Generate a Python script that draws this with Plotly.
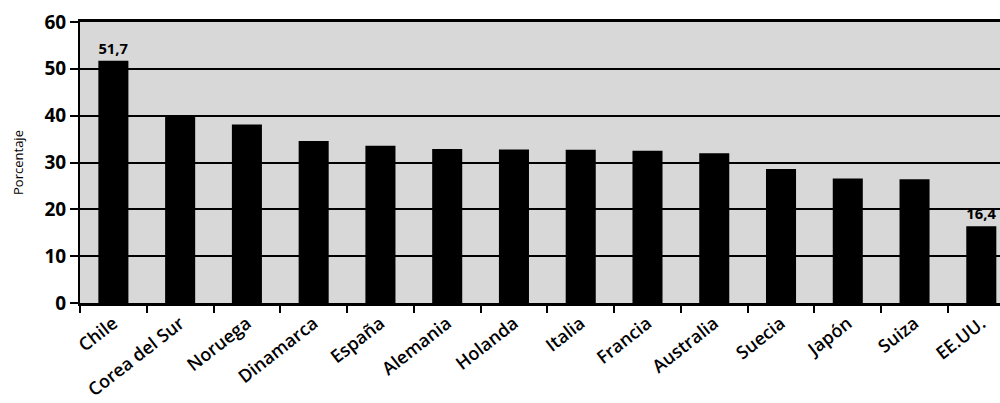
import plotly.graph_objects as go

countries = ["Chile", "Corea del Sur", "Noruega", "Dinamarca", "España", "Alemania",
             "Holanda", "Italia", "Francia", "Australia", "Suecia", "Japón", "Suiza", "EE.UU."]
values = [51.7, 40.0, 38.1, 34.6, 33.6, 32.9, 32.8, 32.7, 32.5, 32.0, 28.6, 26.6, 26.4, 16.4]
value_labels = ["51,7", "", "", "", "", "", "", "", "", "", "", "", "", "16,4"]
y_ticks = [0, 10, 20, 30, 40, 50, 60]

FONT = "Open Sans"

fig = go.Figure(go.Bar(
    x=countries, y=values,
    text=value_labels, textposition="outside",
    textfont=dict(family=FONT, size=15, color="black", weight=700),
    marker=dict(color="black", line=dict(width=0)),
    cliponaxis=False,
))

fig.update_layout(
    width=1000, height=403,
    margin=dict(l=80, r=0, t=22, b=100),
    paper_bgcolor="white", plot_bgcolor="#d8d8d8",
    bargap=0.55, showlegend=False,
    font=dict(family=FONT, color="black"),
)
fig.update_xaxes(
    range=[-0.5, 13.28], tickangle=-38, tickson="boundaries",
    ticks="outside", ticklen=7, tickwidth=2, tickcolor="black",
    showline=True, linecolor="black", linewidth=3, mirror=True,
    tickfont=dict(family=FONT, size=18, color="black", weight=600),
    showgrid=False,
)
fig.update_yaxes(
    range=[0, 60], tickvals=y_ticks,
    ticks="outside", ticklen=8, tickwidth=2, tickcolor="black",
    showline=True, linecolor="black", linewidth=2,
    showgrid=True, gridcolor="black", gridwidth=1.8,
    zeroline=False,
    tickfont=dict(family=FONT, size=19, color="black", weight=700),
    title=dict(text="Porcentaje", font=dict(family=FONT, size=13, color="black"), standoff=18),
)

fig.write_html("out.html")
